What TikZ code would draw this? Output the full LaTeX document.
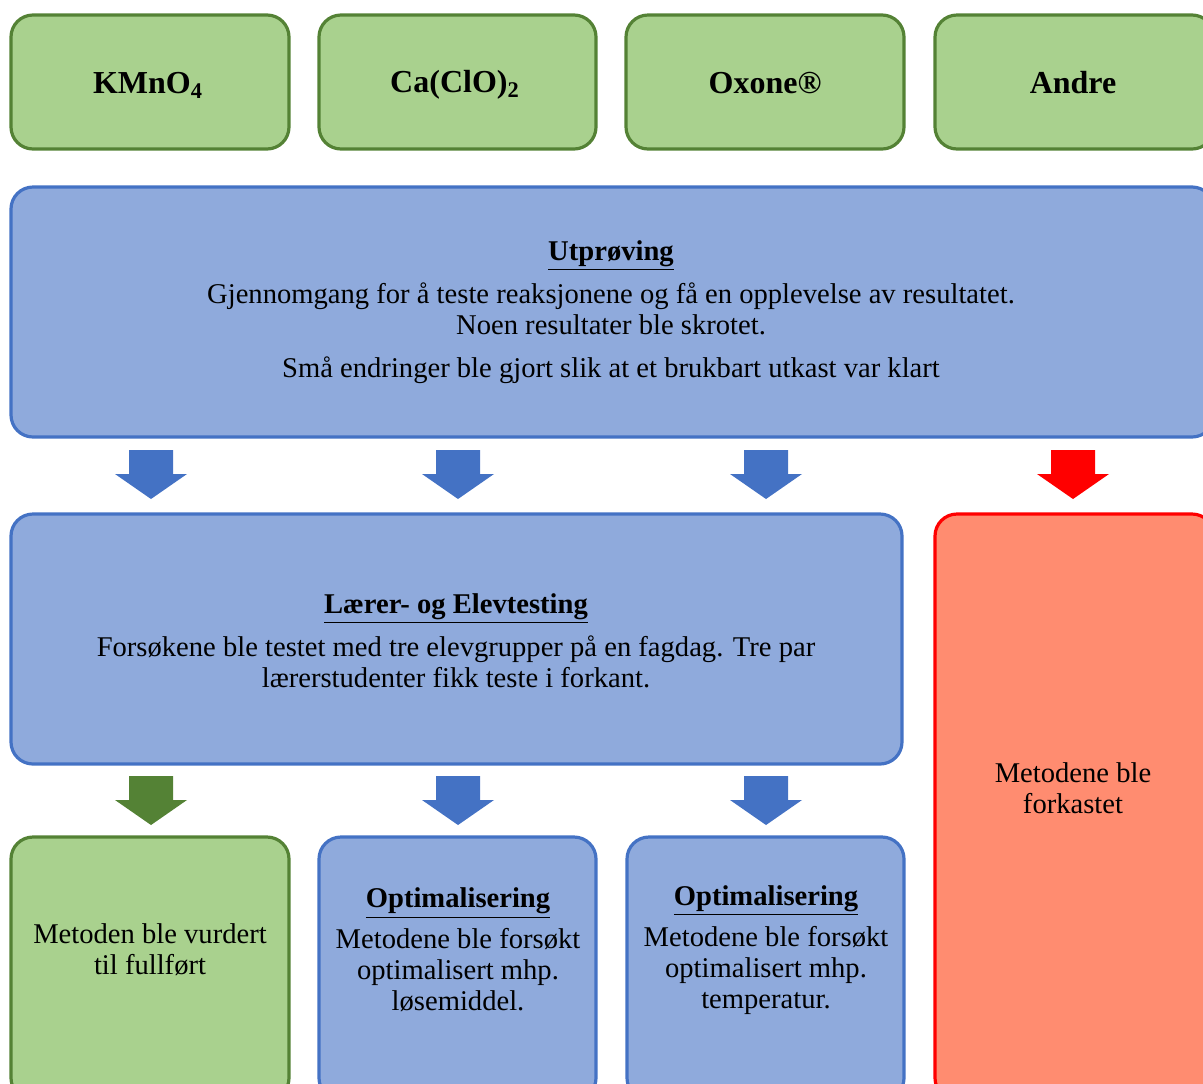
\documentclass[tikz,border=0pt]{standalone}
\usepackage{fontspec}
\setmainfont{Liberation Serif}
\definecolor{gfill}{HTML}{A9D18E}
\definecolor{gline}{HTML}{548235}
\definecolor{bfill}{HTML}{8FAADC}
\definecolor{bline}{HTML}{4472C4}
\definecolor{rfill}{HTML}{FF8C70}
\definecolor{rline}{HTML}{FF0000}
\newcommand\blockarr[3]{%
  \fill[#1] ({#2-22},#3) -- ({#2+22},#3) -- ({#2+22},{#3+24}) -- ({#2+36},{#3+24})
    -- (#2,{#3+49}) -- ({#2-36},{#3+24}) -- ({#2-22},{#3+24}) -- cycle;}
\begin{document}
\begin{tikzpicture}[x=0.5pt,y=-0.5pt,
  box/.style={rounded corners=11pt, line width=1.6pt},
  gbox/.style={box, draw=gline, fill=gfill},
  bbox/.style={box, draw=bline, fill=bfill},
  rbox/.style={box, draw=rline, fill=rfill},
  lbl/.style={font=\fontsize{16pt}{18pt}\selectfont\bfseries, inner sep=0pt},
  txt/.style={font=\fontsize{14.3pt}{15.5pt}\selectfont, align=center, inner sep=0pt}]
\useasboundingbox (0,0) rectangle (1203,1083);
\clip (0,0) rectangle (1203,1083);
% top boxes
\draw[gbox] (11,15) rectangle (289,149);
\draw[gbox] (319,15) rectangle (596,149);
\draw[gbox] (626,15) rectangle (904,149);
\draw[gbox] (935,15) rectangle (1214,149);
\node[lbl] (k) at (148,85) {KMnO\textsubscript{4}};
\node[lbl] (c) at (455,85) {Ca(ClO)\textsubscript{2}};
\node[lbl] (o) at (765,83) {Oxone®};
\node[lbl] (a) at (1073,83) {Andre};
% Utproving
\draw[bbox] (11,187) rectangle (1214,437);
\node[txt] (u) at (611,312) {\textbf{\underline{Utprøving}}\\[5pt]
  Gjennomgang for å teste reaksjonene og få en opplevelse av resultatet.\\
  Noen resultater ble skrotet.\\[6pt]
  Små endringer ble gjort slik at et brukbart utkast var klart};
% arrows row 1
\blockarr{bline}{151}{450}
\blockarr{bline}{458}{450}
\blockarr{bline}{766}{450}
\blockarr{rline}{1073}{450}
% Laerer
\draw[bbox] (11,514) rectangle (902,764);
\node[txt] (l) at (456,641) {\textbf{\underline{Lærer- og Elevtesting}}\\[5pt]
  Forsøkene ble testet med tre elevgrupper på en fagdag. Tre par\\
  lærerstudenter fikk teste i forkant.};
% red
\draw[rbox] (935,514) rectangle (1214,1100);
\node[txt] (r) at (1073,788) {Metodene ble\\forkastet};
% arrows row 2
\blockarr{gline}{151}{776}
\blockarr{bline}{458}{776}
\blockarr{bline}{766}{776}
% bottom
\draw[gbox] (11,837) rectangle (289,1100);
\draw[bbox] (319,837) rectangle (596,1100);
\draw[bbox] (627,837) rectangle (904,1100);
\node[txt] (b1) at (150,950) {Metoden ble vurdert\\til fullført};
\node[txt] (b2) at (458,950) {\textbf{\underline{Optimalisering}}\\[5pt]
  Metodene ble forsøkt\\optimalisert mhp.\\løsemiddel.};
\node[txt] (b3) at (766,950) {\textbf{\underline{Optimalisering}}\\[5pt]
  Metodene ble forsøkt\\optimalisert mhp.\\temperatur.};
\end{tikzpicture}
\end{document}
